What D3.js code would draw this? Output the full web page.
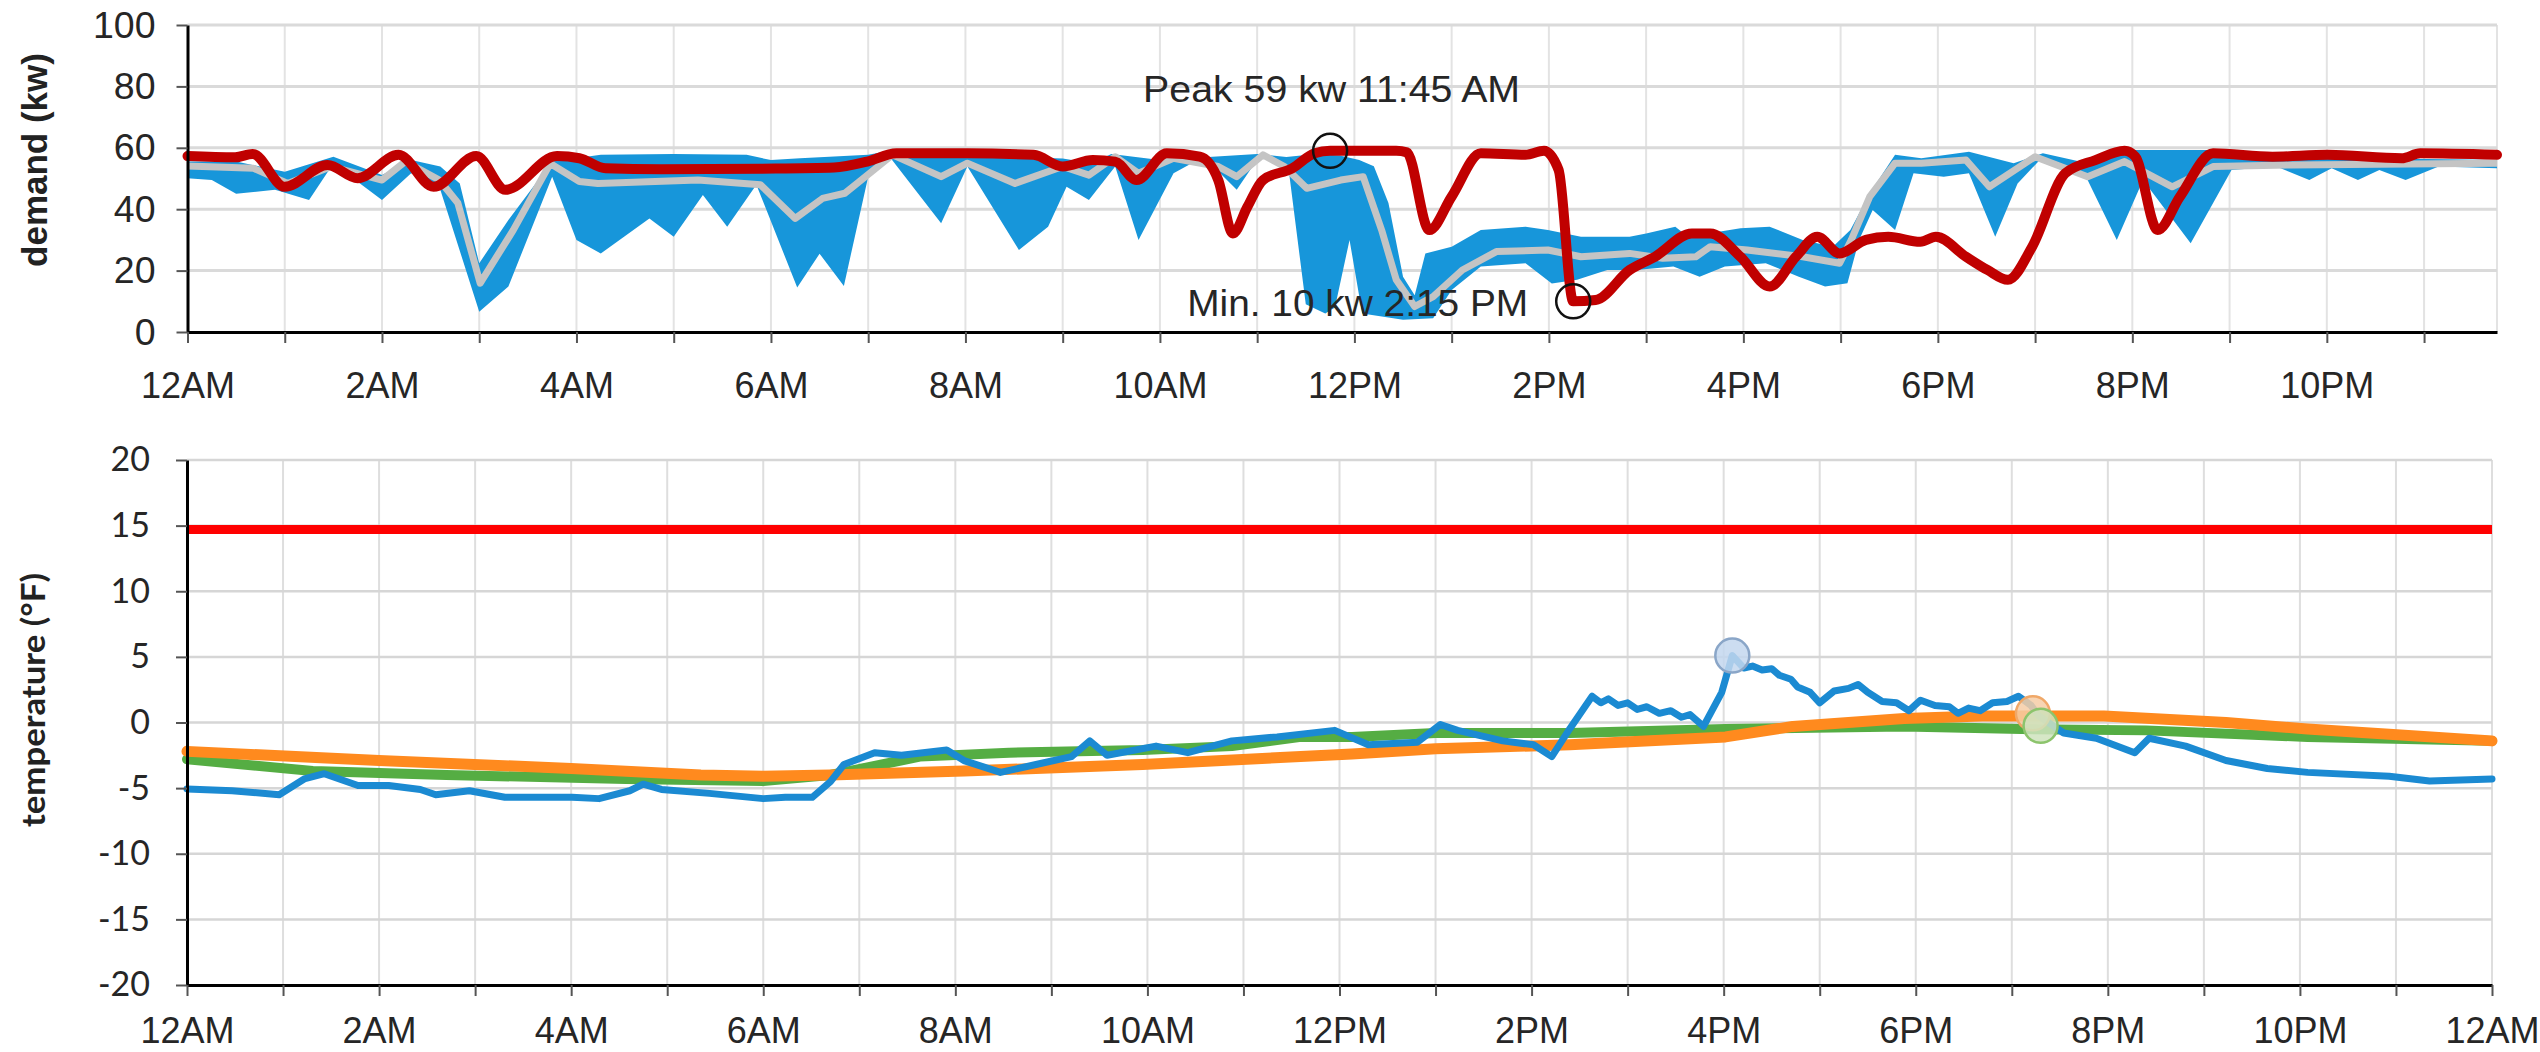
<!DOCTYPE html>
<html><head><meta charset="utf-8">
<script src="https://cdn.jsdelivr.net/npm/d3@7"></script>
<style>
html,body{margin:0;padding:0;background:#fff;}
svg{display:block;}
</style></head><body>
<svg id="chart" width="2540" height="1052"></svg>
<script>
// ---------------- DATA ----------------
// hours of day (0 = 12AM) and values
const xTickLabels = ["12AM","2AM","4AM","6AM","8AM","10AM","12PM","2PM","4PM","6PM","8PM","10PM","12AM"];
const demandTicks = [0,20,40,60,80,100];
const tempTicks = [-20,-15,-10,-5,0,5,10,15,20];

// demand (kw): actual day (red)
const demandActual = [[0,57.3],[0.49,56.9],[0.67,58],[1.0,47.3],[1.44,54.4],[1.75,50.1],[2.17,57.7],[2.53,47.3],[2.97,57.3],[3.27,46.3],[3.8,57.3],[4.03,56.6],[4.3,53.3],[4.87,53],[5.89,53.2],[6.65,53.6],[6.99,55.5],[7.29,58.2],[8.02,58.2],[8.7,57.7],[9.0,53.9],[9.31,56],[9.54,55.5],[9.76,49.5],[10.07,58.2],[10.41,57.1],[10.6,49.5],[10.75,32.1],[10.9,40.8],[11.06,49.5],[11.36,53.3],[11.59,58.2],[11.75,59],[12.1,59],[12.43,59],[12.54,58.5],[12.77,33.2],[13.0,44.1],[13.3,58.2],[13.76,57.7],[13.95,59],[14.1,52.8],[14.25,10],[14.48,10.4],[14.83,20.2],[15.09,24.5],[15.47,32.1],[15.66,32.1],[15.97,24.5],[16.27,14.8],[16.54,24.5],[16.76,31],[16.99,25.6],[17.26,30],[17.49,31],[17.82,29.4],[17.98,31],[18.29,24.5],[18.51,20.2],[18.72,17],[18.97,27.8],[19.31,51.7],[19.62,56],[19.92,59],[20.03,57.1],[20.26,33.2],[20.49,44.1],[20.83,58.2],[21.44,57.1],[22.01,57.7],[22.77,56.6],[22.96,58.2],[23.75,57.7]];
// demand (kw): typical average (grey)
const demandAverage = [[0,54.1],[0.68,53.3],[1.03,48.4],[1.48,53.9],[2.0,49.5],[2.24,55.5],[2.59,49.5],[2.78,42],[3.01,15.9],[3.35,33.2],[3.73,54.9],[4.03,49],[4.22,48.4],[5.25,49.5],[5.89,48],[6.25,37],[6.53,43.5],[6.76,45.2],[7.25,57.7],[7.75,50.6],[8.02,55],[8.51,48.4],[9.0,53.9],[9.27,51.1],[9.54,57.1],[9.78,51.7],[10.14,56.6],[10.6,53.9],[10.79,50.6],[11.06,57.7],[11.28,53.9],[11.51,46.8],[11.86,49.5],[12.09,50.6],[12.28,33.2],[12.43,17],[12.62,8.3],[12.81,11.5],[13.11,20.2],[13.46,26.2],[13.99,26.7],[14.33,24.5],[14.83,25.6],[15.17,24],[15.51,24.5],[15.66,27.8],[16.04,26.7],[16.61,24.5],[16.99,22.4],[17.11,30],[17.3,44.1],[17.56,55],[17.83,55],[18.29,56],[18.53,47.3],[19.0,57.1],[19.54,50.6],[19.92,55.5],[20.41,47.3],[20.83,53.9],[21.63,54.4],[23.75,55]];
// demand (kw): range high / low (blue band)
const demandHigh = [[0,55.5],[0.5,55.5],[1.0,52.2],[1.5,57.1],[2.0,51.1],[2.3,56],[2.6,53.9],[2.8,48.4],[3.0,22.4],[3.3,36.5],[3.75,55.5],[4.25,57.7],[5.0,58],[5.75,57.7],[6.0,56],[6.3,56.6],[7.0,57.7],[7.3,59.5],[7.5,57],[8.0,58],[8.5,57],[9.0,56.5],[9.3,55],[9.5,58],[10.0,56],[10.5,57],[11.0,58],[11.3,57],[11.6,58],[11.85,57.5],[12.05,56],[12.2,54],[12.35,42],[12.5,18],[12.62,12],[12.73,25.6],[13.0,27.8],[13.3,33.2],[13.76,34.3],[13.99,33.2],[14.33,31],[14.83,31],[15.0,32.1],[15.3,34.3],[15.43,31],[15.97,33.8],[16.27,34.3],[16.61,30],[16.92,27.8],[17.1,33.2],[17.3,45.2],[17.56,57.7],[17.83,56.6],[18.32,58.7],[18.78,55],[19.08,58.2],[19.54,55],[19.92,59.3],[20.87,59.3],[21.5,57],[23.75,56]];
const demandLow = [[0,50.1],[0.25,49.5],[0.5,45],[0.9,46.3],[1.25,43],[1.5,54.9],[2.0,43],[2.3,51.7],[2.6,46.3],[3.0,6.6],[3.3,14.8],[3.75,50.6],[4.0,30],[4.25,25.6],[4.75,37],[5.0,31],[5.3,44.6],[5.55,34.3],[5.85,48],[6.27,14.5],[6.5,25.5],[6.75,15],[7.0,50.6],[7.18,58.7],[7.75,35.4],[8.02,53.9],[8.55,26.7],[8.85,34.3],[9.04,47.3],[9.27,43],[9.54,53.9],[9.78,30],[10.14,51.7],[10.45,57.1],[10.79,46.3],[11.02,57.1],[11.32,53.9],[11.5,9],[11.7,6],[11.8,8],[11.95,30],[12.08,6],[12.5,4],[12.81,4.5],[13.0,13.7],[13.3,21.3],[13.76,22.4],[14.03,15.8],[14.29,17],[14.6,20.2],[14.9,20.2],[15.28,21.3],[15.55,18],[15.81,21.3],[16.23,22.4],[16.57,18],[16.84,14.8],[17.07,15.9],[17.19,30],[17.33,39.7],[17.56,33.2],[17.75,51.7],[18.06,50.6],[18.32,51.7],[18.59,31],[18.82,48.4],[19.08,57.1],[19.54,49.5],[19.84,30],[20.11,49.5],[20.6,28.9],[21.02,52.8],[21.48,53.9],[21.82,49.5],[22.05,53.3],[22.32,49.5],[22.54,52.8],[22.81,49.5],[23.15,53.9],[23.75,53.3]];
const peakPoint = [11.75, 59];
const minPoint = [14.25, 10];
const peakLabel = "Peak 59 kw 11:45 AM";
const minLabel = "Min. 10 kw 2:15 PM";

// temperature (°F)
const tempThreshold = 14.7;
const tempActual = [[0,-5.06],[0.47,-5.2],[0.96,-5.5],[1.22,-4.3],[1.43,-3.9],[1.78,-4.8],[2.1,-4.8],[2.43,-5.1],[2.59,-5.5],[2.94,-5.2],[3.31,-5.7],[4.01,-5.7],[4.29,-5.8],[4.61,-5.2],[4.75,-4.7],[4.94,-5.1],[5.44,-5.4],[6.0,-5.8],[6.23,-5.7],[6.51,-5.7],[6.7,-4.5],[6.84,-3.2],[7.16,-2.3],[7.44,-2.5],[7.91,-2.1],[8.09,-2.9],[8.47,-3.8],[8.84,-3.2],[9.21,-2.6],[9.4,-1.4],[9.58,-2.5],[10.09,-1.8],[10.42,-2.3],[10.88,-1.4],[11.35,-1.1],[11.95,-0.6],[12.3,-1.7],[12.81,-1.5],[13.05,-0.15],[13.23,-0.6],[13.7,-1.4],[14.02,-1.7],[14.21,-2.6],[14.4,-0.45],[14.63,2.0],[14.72,1.5],[14.8,1.8],[14.9,1.3],[15.0,1.5],[15.1,1.0],[15.2,1.2],[15.33,0.7],[15.45,0.9],[15.56,0.4],[15.65,0.6],[15.79,-0.3],[15.98,2.3],[16.09,5.1],[16.21,4.15],[16.3,4.3],[16.4,4.0],[16.5,4.1],[16.58,3.6],[16.7,3.3],[16.77,2.7],[16.9,2.3],[17.0,1.5],[17.15,2.4],[17.3,2.6],[17.4,2.9],[17.5,2.3],[17.65,1.6],[17.8,1.5],[17.93,0.9],[18.05,1.7],[18.2,1.3],[18.35,1.2],[18.44,0.7],[18.55,1.1],[18.67,0.9],[18.8,1.5],[18.95,1.6],[19.07,2.0],[19.2,1.3],[19.28,0.5],[19.54,-0.8],[19.88,-1.2],[20.28,-2.3],[20.43,-1.2],[20.81,-1.8],[21.23,-2.9],[21.66,-3.5],[22.08,-3.8],[22.93,-4.1],[23.35,-4.45],[24,-4.3]];
const tempOrange = [[0,-2.2],[2,-2.9],[4,-3.5],[5.35,-4.0],[6,-4.1],[6.7,-4.0],[8.09,-3.7],[9.95,-3.2],[12.13,-2.4],[13.0,-2.0],[14.4,-1.7],[16.02,-1.1],[16.72,-0.3],[17.88,0.3],[18.69,0.5],[19.96,0.5],[21.23,0.0],[22.08,-0.5],[22.93,-0.9],[24,-1.4]];
const tempGreen = [[0,-2.8],[1.31,-3.7],[2.7,-4.0],[4.57,-4.3],[6,-4.45],[6.7,-4.0],[7.63,-2.6],[8.56,-2.3],[9.95,-2.1],[10.88,-1.8],[11.58,-1.1],[12.13,-1.1],[13,-0.8],[14.4,-0.8],[16.02,-0.5],[17.88,-0.3],[19.1,-0.5],[20.4,-0.6],[22.08,-1.1],[24,-1.4]];
const tempMarkers = [
  {h:16.09, v:5.1, fill:"#c3d7ee", stroke:"#8aa6c8"},
  {h:19.22, v:0.7, fill:"#f6cda6", stroke:"#f0a868"},
  {h:19.3, v:-0.25, fill:"#cfe3bd", stroke:"#8cc46c"}
];

// ---------------- DRAW ----------------
const svg = d3.select("#chart");
const F = "'Liberation Sans', Arial, Helvetica, sans-serif";
const hourFmt = d => (d % 2 === 0 ? xTickLabels[d/2] : "");

function styleAxis(g, fs, family){
  g.select(".domain").attr("stroke","#000").attr("stroke-width",3);
  g.selectAll(".tick line").attr("stroke","#555").attr("stroke-width",2);
  g.selectAll(".tick text").attr("fill","#262626").attr("font-size",fs).attr("font-family",family);
}

// ===== TOP: demand =====
const xT = d3.scaleLinear().domain([0,23.75]).range([187.5,2497]);
const yT = d3.scaleLinear().domain([0,100]).range([332,25]);
const gT = svg.append("g");

gT.selectAll("line.vg").data(d3.range(1,24).concat([23.75])).join("line")
  .attr("x1",d=>xT(d)).attr("x2",d=>xT(d)).attr("y1",yT(100)).attr("y2",yT(0))
  .attr("stroke","#e3e3e3").attr("stroke-width",2);
gT.selectAll("line.hg").data(demandTicks.filter(d=>d>0)).join("line")
  .attr("x1",xT(0)).attr("x2",xT(23.75)).attr("y1",d=>yT(d)).attr("y2",d=>yT(d))
  .attr("stroke","#dadada").attr("stroke-width",3);

const lineT = d3.line().x(d=>xT(d[0])).y(d=>yT(d[1]));
gT.append("path").attr("d", lineT(demandHigh.concat(demandLow.slice().reverse())) + "Z")
  .attr("fill","#1796da");
gT.append("path").attr("d", lineT(demandAverage)).attr("fill","none")
  .attr("stroke","#c4c4c4").attr("stroke-width",7).attr("stroke-linejoin","round");
gT.append("path").attr("d", lineT.curve(d3.curveMonotoneX)(demandActual)).attr("fill","none")
  .attr("stroke","#c00000").attr("stroke-width",10).attr("stroke-linejoin","round").attr("stroke-linecap","round");

const axTL = gT.append("g").attr("transform",`translate(${xT(0)},0)`)
  .call(d3.axisLeft(yT).tickValues(demandTicks).tickSize(11).tickSizeOuter(0).tickPadding(21));
styleAxis(axTL, 37.5, F);
const axTB = gT.append("g").attr("transform",`translate(0,${yT(0)})`)
  .call(d3.axisBottom(xT).tickValues(d3.range(0,24)).tickSize(11).tickSizeOuter(0).tickFormat(hourFmt));
styleAxis(axTB, 36, F);
axTB.selectAll(".tick text").attr("y",66).attr("dy",0);

gT.selectAll("circle.ann").data([peakPoint,minPoint]).join("circle")
  .attr("cx",d=>xT(d[0])).attr("cy",d=>yT(d[1])).attr("r",17)
  .attr("fill","none").attr("stroke","#111").attr("stroke-width",2.5);
gT.append("text").attr("x", xT(peakPoint[0]) - 187).attr("y", yT(peakPoint[1]) - 49)
  .attr("font-family",F).attr("font-size",37).attr("fill","#262626")
  .attr("textLength",377).attr("lengthAdjust","spacingAndGlyphs").text(peakLabel);
gT.append("text").attr("x", xT(minPoint[0]) - 386).attr("y", yT(minPoint[1]) + 15)
  .attr("font-family",F).attr("font-size",37).attr("fill","#262626")
  .attr("textLength",341).attr("lengthAdjust","spacingAndGlyphs").text(minLabel);

gT.append("text").attr("transform",`translate(47,160) rotate(-90)`).attr("text-anchor","middle")
  .attr("font-family",F).attr("font-weight","bold").attr("font-size",35).attr("fill","#222")
  .text("demand (kw)");

// ===== BOTTOM: temperature =====
const xB = d3.scaleLinear().domain([0,24]).range([187,2492]);
const yB = d3.scaleLinear().domain([-20,20]).range([985,460]);
const gB = svg.append("g");

gB.selectAll("line.vg").data(d3.range(1,25)).join("line")
  .attr("x1",d=>xB(d)).attr("x2",d=>xB(d)).attr("y1",yB(20)).attr("y2",yB(-20))
  .attr("stroke","#dedede").attr("stroke-width",2);
gB.selectAll("line.hg").data(tempTicks.filter(d=>d>-20)).join("line")
  .attr("x1",xB(0)).attr("x2",xB(24)).attr("y1",d=>yB(d)).attr("y2",d=>yB(d))
  .attr("stroke","#d6d6d6").attr("stroke-width",2.5);

const lineB = d3.line().x(d=>xB(d[0])).y(d=>yB(d[1]));
gB.append("path").attr("d", lineB([[0,tempThreshold],[24,tempThreshold]]))
  .attr("stroke","#ff0000").attr("stroke-width",9).attr("fill","none");
gB.append("path").attr("d", lineB(tempGreen)).attr("fill","none")
  .attr("stroke","#55ad43").attr("stroke-width",10).attr("stroke-linejoin","round").attr("stroke-linecap","round");
gB.append("path").attr("d", lineB(tempOrange)).attr("fill","none")
  .attr("stroke","#ff8a1e").attr("stroke-width",11).attr("stroke-linejoin","round").attr("stroke-linecap","round");
gB.append("path").attr("d", lineB(tempActual)).attr("fill","none")
  .attr("stroke","#1b8ad2").attr("stroke-width",7).attr("stroke-linejoin","round").attr("stroke-linecap","round");

gB.selectAll("circle.mk").data(tempMarkers).join("circle")
  .attr("cx",d=>xB(d.h)).attr("cy",d=>yB(d.v)).attr("r",17)
  .attr("fill",d=>d.fill).attr("fill-opacity",0.85).attr("stroke",d=>d.stroke).attr("stroke-width",2.5);

const axBL = gB.append("g").attr("transform",`translate(${xB(0)},0)`)
  .call(d3.axisLeft(yB).tickValues(tempTicks).tickSize(11).tickSizeOuter(0).tickPadding(26).tickFormat(d => String(d)));
styleAxis(axBL, 34, "Lato, 'Open Sans', sans-serif");
const axBB = gB.append("g").attr("transform",`translate(0,${yB(-20)})`)
  .call(d3.axisBottom(xB).tickValues(d3.range(0,25)).tickSize(11).tickSizeOuter(0).tickFormat(hourFmt));
styleAxis(axBB, 36, F);
axBB.selectAll(".tick text").attr("y",58).attr("dy",0);

gB.append("text").attr("transform",`translate(45,700) rotate(-90)`).attr("text-anchor","middle")
  .attr("font-family","Lato, 'Open Sans', sans-serif").attr("font-weight","bold").attr("font-size",33)
  .attr("fill","#222").attr("textLength",254).attr("lengthAdjust","spacingAndGlyphs")
  .text("temperature (°F)");
</script>
</body></html>
